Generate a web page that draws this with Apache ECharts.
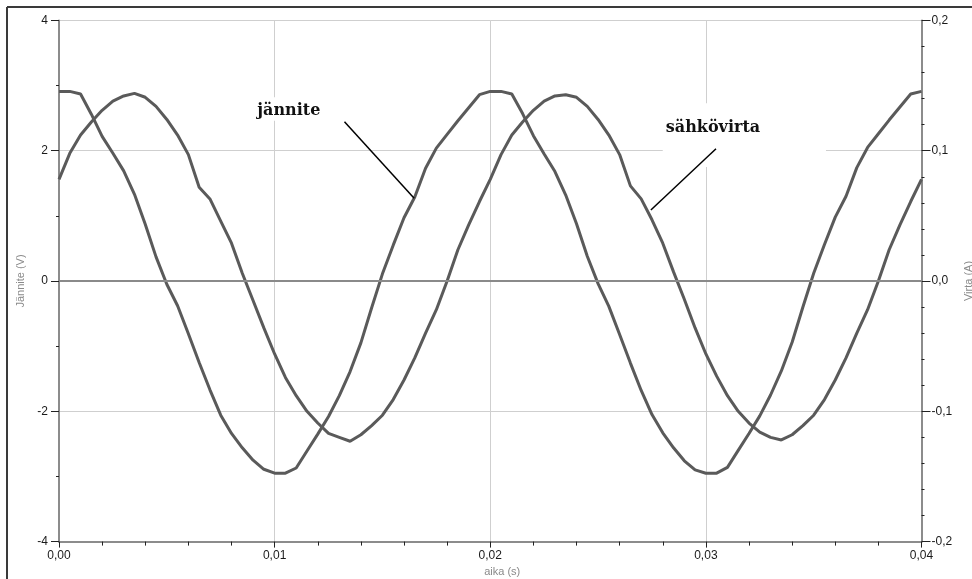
<!DOCTYPE html>
<html><head><meta charset="utf-8">
<script src="https://cdn.jsdelivr.net/npm/echarts@6/dist/echarts.min.js"></script>
<style>html,body{margin:0;padding:0;background:#fff}#c{width:972px;height:579px}</style>
</head><body><div id="c"></div>
<script>
// time in seconds
const timeS = [0,0.0005,0.001,0.0015,0.002,0.0025,0.003,0.0035,0.004,0.0045,
0.005,0.0055,0.006,0.0065,0.007,0.0075,0.008,0.0085,0.009,0.0095,
0.01,0.0105,0.011,0.0115,0.012,0.0125,0.013,0.0135,0.014,0.0145,
0.015,0.0155,0.016,0.0165,0.017,0.0175,0.018,0.0185,0.019,0.0195,
0.02,0.0205,0.021,0.0215,0.022,0.0225,0.023,0.0235,0.024,0.0245,
0.025,0.0255,0.026,0.0265,0.027,0.0275,0.028,0.0285,0.029,0.0295,
0.03,0.0305,0.031,0.0315,0.032,0.0325,0.033,0.0335,0.034,0.0345,
0.035,0.0355,0.036,0.0365,0.037,0.0375,0.038,0.0385,0.039,0.0395,0.04];
// jännite (V)
const voltageV = [2.91,2.91,2.87,2.56,2.22,1.96,1.69,1.33,0.87,0.37,
-0.05,-0.38,-0.81,-1.25,-1.67,-2.06,-2.34,-2.56,-2.75,-2.89,
-2.95,-2.95,-2.87,-2.61,-2.35,-2.08,-1.76,-1.39,-0.95,-0.41,
0.11,0.55,0.97,1.29,1.73,2.04,2.25,2.46,2.66,2.86,
2.91,2.91,2.87,2.57,2.23,1.95,1.68,1.32,0.88,0.38,
-0.04,-0.39,-0.82,-1.26,-1.68,-2.05,-2.33,-2.56,-2.76,-2.90,
-2.95,-2.95,-2.86,-2.60,-2.34,-2.07,-1.75,-1.38,-0.94,-0.40,
0.12,0.56,0.98,1.30,1.74,2.05,2.26,2.47,2.67,2.87,2.91];
// sähkövirta (A)
const currentA = [0.078,0.098,0.112,0.122,0.131,0.138,0.142,0.144,0.141,0.134,
0.124,0.112,0.097,0.072,0.063,0.046,0.029,0.006,-0.015,-0.036,
-0.056,-0.074,-0.088,-0.100,-0.109,-0.117,-0.120,-0.123,-0.118,-0.111,
-0.103,-0.091,-0.076,-0.059,-0.040,-0.022,0.000,0.024,0.043,0.061,
0.078,0.097,0.112,0.122,0.131,0.138,0.142,0.143,0.141,0.134,
0.124,0.112,0.097,0.073,0.063,0.047,0.029,0.007,-0.014,-0.036,
-0.056,-0.073,-0.088,-0.100,-0.109,-0.116,-0.120,-0.122,-0.118,-0.111,
-0.103,-0.091,-0.076,-0.059,-0.040,-0.022,0.000,0.024,0.043,0.061,0.078];

const xAxisName = 'aika (s)';
const leftAxisName = 'Jännite (V)';
const rightAxisName = 'Virta (A)';

// annotations in (time s, voltage V) coordinates
const annotations = [
  {text:'jännite', textAt:[0.01066,2.61], box:[[0.0089,2.82],[0.0126,2.46]], from:[0.01324,2.445], to:[0.01647,1.27]},
  {text:'sähkövirta', textAt:[0.03033,2.35], box:[[0.0280,2.73],[0.03557,1.75]], from:[0.03047,2.03], to:[0.02745,1.09]}
];

const vPairs = timeS.map((t,i)=>[t,voltageV[i]]);
const iPairs = timeS.map((t,i)=>[t,currentA[i]]);
const comma = (v,d)=> (Math.abs(v)<1e-9?0:v).toFixed(d).replace('.',',');
const lblFont = {fontFamily:'Liberation Sans',fontSize:12,color:'#1a1a1a'};
const nameFont = {fontFamily:'Liberation Sans',fontSize:11,color:'#8a8a8a'};

const chart = echarts.init(document.getElementById('c'),null,{renderer:'canvas'});
const option = {
  animation:false,
  backgroundColor:'#fff',
  grid:{left:59,right:50.5,top:20.4,bottom:37.4,containLabel:false,outerBoundsMode:'none'},
  xAxis:{type:'value',min:0,max:0.04,interval:0.01,
    name:xAxisName,nameLocation:'middle',nameGap:25,nameTextStyle:Object.assign({padding:[0,0,0,24]},nameFont),
    axisLine:{show:true,onZero:false,lineStyle:{color:'#8c8c8c',width:2}},
    axisTick:{show:true,length:6,lineStyle:{color:'#222',width:1}},
    minorTick:{show:true,splitNumber:5,length:4,lineStyle:{color:'#222',width:1}},
    axisLabel:Object.assign({margin:8,formatter:v=>comma(v,2)},lblFont),
    splitLine:{show:true,lineStyle:{color:'#cfcfcf',width:1}}},
  yAxis:[
    {type:'value',min:-4,max:4,interval:2,position:'left',
      name:leftAxisName,nameLocation:'middle',nameGap:33,nameRotate:90,nameTextStyle:nameFont,
      axisLine:{show:true,onZero:false,lineStyle:{color:'#8c8c8c',width:2}},
      axisTick:{show:true,length:8,lineStyle:{color:'#222',width:1}},
      minorTick:{show:true,splitNumber:2,length:3,lineStyle:{color:'#222',width:1}},
      axisLabel:Object.assign({margin:11,formatter:v=>String(v)},lblFont),
      splitLine:{show:true,lineStyle:{color:'#cfcfcf',width:1}}},
    {type:'value',min:-0.2,max:0.2,interval:0.1,position:'right',
      name:rightAxisName,nameLocation:'middle',nameGap:42,nameRotate:90,nameTextStyle:nameFont,
      axisLine:{show:true,onZero:false,lineStyle:{color:'#8c8c8c',width:2}},
      axisTick:{show:true,length:9,lineStyle:{color:'#222',width:1}},
      minorTick:{show:true,splitNumber:5,length:3,lineStyle:{color:'#222',width:1}},
      axisLabel:Object.assign({margin:10,formatter:v=>comma(v,1)},lblFont),
      splitLine:{show:false}}
  ],
  series:[
    {name:'jännite',type:'line',yAxisIndex:0,data:vPairs,showSymbol:false,symbol:'none',
      lineStyle:{color:'#5a5a5a',width:3},
      markLine:{silent:true,symbol:'none',label:{show:false},lineStyle:{color:'#8a8a8a',width:2,type:'solid'},data:[{yAxis:0}]}},
    {name:'sähkövirta',type:'line',yAxisIndex:1,data:iPairs,showSymbol:false,symbol:'none',
      lineStyle:{color:'#5a5a5a',width:3}}
  ]
};
chart.setOption(option);

function px(p){return chart.convertToPixel({xAxisIndex:0,yAxisIndex:0},p);}
const g=[];
annotations.forEach(a=>{
  const b0=px(a.box[0]), b1=px(a.box[1]);
  g.push({type:'rect',silent:true,z:50,shape:{x:Math.min(b0[0],b1[0]),y:Math.min(b0[1],b1[1]),width:Math.abs(b1[0]-b0[0]),height:Math.abs(b1[1]-b0[1])},style:{fill:'#fff'}});
  const f=px(a.from), t=px(a.to);
  g.push({type:'line',silent:true,z:60,shape:{x1:f[0],y1:f[1],x2:t[0],y2:t[1]},style:{stroke:'#000',lineWidth:1.5}});
  const c=px(a.textAt);
  g.push({type:'text',silent:true,z:70,x:c[0],y:c[1],style:{text:a.text,fontFamily:'DejaVu Serif',fontWeight:'bold',fontSize:16,fill:'#111',align:'center',verticalAlign:'middle'}});
});
g.push({type:'line',silent:true,z:80,shape:{x1:7,y1:7,x2:972,y2:7},style:{stroke:'#3a3a3a',lineWidth:2}});
g.push({type:'line',silent:true,z:80,shape:{x1:7,y1:7,x2:7,y2:579},style:{stroke:'#3a3a3a',lineWidth:2}});
chart.setOption({graphic:g});
</script>
</body></html>
